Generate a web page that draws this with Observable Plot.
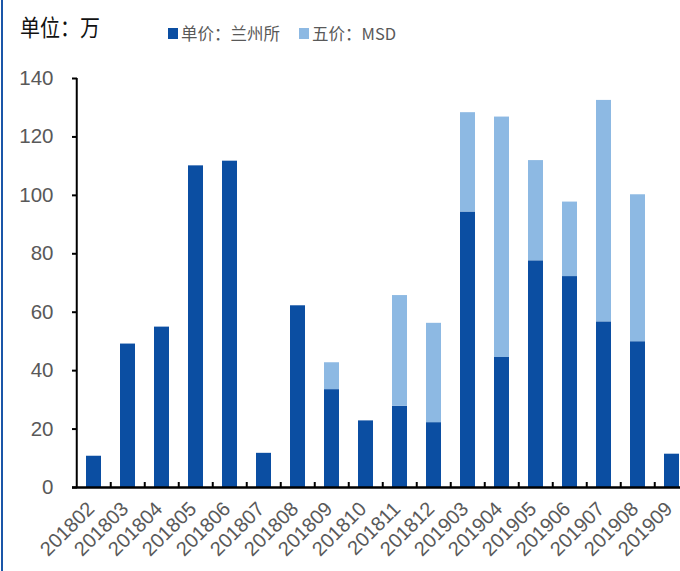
<!DOCTYPE html>
<html><head><meta charset="utf-8">
<script src="https://cdn.jsdelivr.net/npm/d3@7"></script>
<script src="https://cdn.jsdelivr.net/npm/@observablehq/plot@0.6"></script>
<style>
body{margin:0;background:#fff;}
#wrap{position:relative;width:680px;height:571px;overflow:hidden;background:#fff;}
#wrap svg{position:absolute;left:0;top:0;}
#border{position:absolute;left:1px;top:0;width:2px;height:571px;background:#1a56a8;}
#title{position:absolute;left:20px;top:10px;font:20px "Noto Sans CJK SC",sans-serif;color:#111;line-height:30px;transform:scaleY(1.15);transform-origin:left top;}
#legend{position:absolute;left:168px;top:22px;display:flex;align-items:center;font:16.5px "Noto Sans CJK SC","Liberation Sans",sans-serif;color:#595959;line-height:22px;}
#legend .item{display:flex;align-items:center;margin-right:19px;}
#legend .sw{width:10px;height:11px;margin-right:3px;}
</style></head><body>
<div id="wrap">
  <div id="border"></div>
  <div id="title">单位：万</div>
  <div id="legend"></div>
</div>
<script>
const months = ["201802","201803","201804","201805","201806","201807","201808","201809","201810","201811","201812","201903","201904","201905","201906","201907","201908","201909"];
const lanzhou = [10.7, 49.1, 54.9, 110.1, 111.7, 11.7, 62.2, 33.5, 22.8, 27.8, 22.2, 94.3, 44.5, 77.6, 72.2, 56.7, 49.9, 11.4];
const msd     = [0, 0, 0, 0, 0, 0, 0, 9.2, 0, 37.9, 34.0, 34.0, 82.3, 34.3, 25.5, 75.8, 50.3, 0];
const seriesNames = ["单价：兰州所", "五价：MSD"];
const colors = ["#0b4ea2", "#8db9e3"];
const yTicks = [0, 20, 40, 60, 80, 100, 120, 140];

const data = [];
months.forEach((m, i) => {
  data.push({month: m, series: seriesNames[0], value: lanzhou[i]});
  data.push({month: m, series: seriesNames[1], value: msd[i]});
});

const W = 680, H = 571, mL = 72, mR = -13, mT = 78, mB = 84;
const step = (W - mL - mR) / months.length;
const pad = 0.545;

const chart = Plot.plot({
  width: W, height: H,
  marginLeft: mL, marginRight: mR, marginTop: mT, marginBottom: mB,
  style: {fontFamily: "'Liberation Sans', Arial, sans-serif", background: "transparent"},
  x: {domain: months, paddingInner: pad, paddingOuter: pad / 2, align: 0.5},
  y: {domain: [0, 140]},
  color: {domain: seriesNames, range: colors},
  marks: [
    Plot.barY(data, {x: "month", y: "value", fill: "series", order: seriesNames}),
    Plot.axisY({ticks: yTicks, tickSize: 0, tickPadding: 19, fontSize: 20.5, color: "#595959", label: null}),
    Plot.axisY({ticks: yTicks, tickSize: -5, tickFormat: () => "", stroke: "#000", strokeWidth: 2, label: null}),
    Plot.axisX({ticks: months.slice(1), tickSize: -5, tickFormat: () => "", dx: -step / 2, stroke: "#000", strokeWidth: 2, label: null}),
    Plot.axisX({tickSize: 0, tickRotate: -45, tickPadding: 18, dx: -3, fontSize: 20, color: "#595959", label: null}),
    Plot.ruleX([months[0]], {dx: -step / 2, y1: 0, y2: 140, stroke: "#000", strokeWidth: 2}),
    Plot.ruleY([0], {stroke: "#000", strokeWidth: 2.5})
  ]
});
document.getElementById("wrap").appendChild(chart);

const legend = document.getElementById("legend");
seriesNames.forEach((s, i) => {
  const it = document.createElement("div");
  it.className = "item";
  const sw = document.createElement("span");
  sw.className = "sw"; sw.style.background = colors[i];
  const tx = document.createElement("span");
  tx.textContent = s;
  it.appendChild(sw); it.appendChild(tx);
  legend.appendChild(it);
});
</script>
</body></html>
